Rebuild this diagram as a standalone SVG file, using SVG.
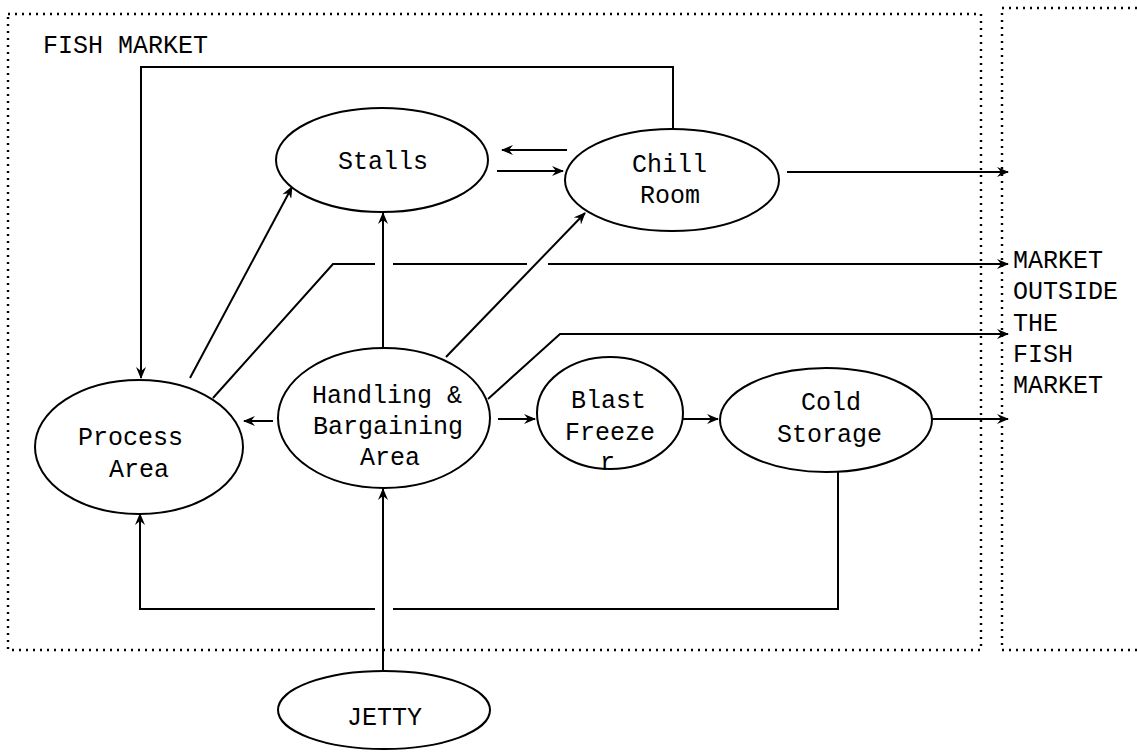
<svg xmlns="http://www.w3.org/2000/svg" width="1137" height="752" viewBox="0 0 1137 752">
<style>
.bg{fill:#fff}
.frame{fill:none;stroke:#000;stroke-width:2.4;stroke-dasharray:2 5}
.node{fill:#fff;stroke:#000;stroke-width:2}
.lbl{font-family:"Liberation Mono","DejaVu Sans Mono",monospace;font-size:25px;fill:#000}
.c{fill:none;stroke:#000;stroke-width:2}
.a{marker-end:url(#arr)}
</style>
<defs>
<marker id="arr" viewBox="0 0 12 10" refX="11" refY="5" markerWidth="13" markerHeight="10" markerUnits="userSpaceOnUse" orient="auto">
<path d="M0,0 L12,5 L0,10 L4,5 Z" fill="#000"/>
</marker>
</defs>
<rect class="bg" width="1137" height="752"/>
<g id="frames">
<rect class="frame" x="8" y="14" width="973" height="636"/>
<path class="frame" d="M1137,8 H1002 V650 H1137"/>
</g>
<text class="lbl" x="43" y="53">FISH MARKET</text>
<g id="connectors">
<path class="c a" d="M673,129 V67 H141 V378"/>
<path class="c a" d="M567,150 H502"/>
<path class="c a" d="M497,171 H563"/>
<path class="c a" d="M787,172 H1008"/>
<path class="c a" d="M190,378 L292,187"/>
<path class="c" d="M213,398 L333,264 H375 M393,264 H527"/>
<path class="c a" d="M548,264 H1008"/>
<path class="c a" d="M383,347 V213"/>
<path class="c a" d="M446,357 L585,213"/>
<path class="c a" d="M488,399 L560,334 H1008"/>
<path class="c a" d="M273,421 H244"/>
<path class="c a" d="M498,419 H535"/>
<path class="c a" d="M683,419 H718"/>
<path class="c a" d="M932,419 H1008"/>
<path class="c" d="M838,472 V609 H393"/>
<path class="c a" d="M375,609 H140 V514"/>
<path class="c a" d="M383,671 V489"/>
</g>
<g id="stalls">
<ellipse class="node" cx="382" cy="160" rx="106" ry="52"/>
<text class="lbl" x="338" y="169">Stalls</text>
</g>
<g id="chill-room">
<ellipse class="node" cx="672" cy="180" rx="107" ry="51"/>
<text class="lbl" x="632" y="172">Chill</text>
<text class="lbl" x="640" y="203">Room</text>
</g>
<g id="process-area">
<ellipse class="node" cx="139" cy="447" rx="104" ry="67"/>
<text class="lbl" x="78" y="445">Process</text>
<text class="lbl" x="109" y="477">Area</text>
</g>
<g id="handling-bargaining-area">
<ellipse class="node" cx="384" cy="418" rx="106" ry="70"/>
<text class="lbl" x="312" y="403">Handling &amp;</text>
<text class="lbl" x="313" y="434">Bargaining</text>
<text class="lbl" x="360" y="465">Area</text>
</g>
<g id="blast-freezer">
<ellipse class="node" cx="610" cy="413" rx="73" ry="56"/>
<text class="lbl" x="571" y="408">Blast</text>
<text class="lbl" x="565" y="440">Freeze</text>
<text class="lbl" x="600" y="470">r</text>
</g>
<g id="cold-storage">
<ellipse class="node" cx="826" cy="420" rx="106" ry="52"/>
<text class="lbl" x="801" y="410">Cold</text>
<text class="lbl" x="777" y="442">Storage</text>
</g>
<g id="jetty">
<ellipse class="node" cx="384" cy="710" rx="106" ry="39"/>
<text class="lbl" x="347" y="725">JETTY</text>
</g>
<g id="market-outside">
<text class="lbl" x="1013" y="268">MARKET</text>
<text class="lbl" x="1013" y="299">OUTSIDE</text>
<text class="lbl" x="1013" y="331">THE</text>
<text class="lbl" x="1013" y="362">FISH</text>
<text class="lbl" x="1013" y="393">MARKET</text>
</g>
</svg>
